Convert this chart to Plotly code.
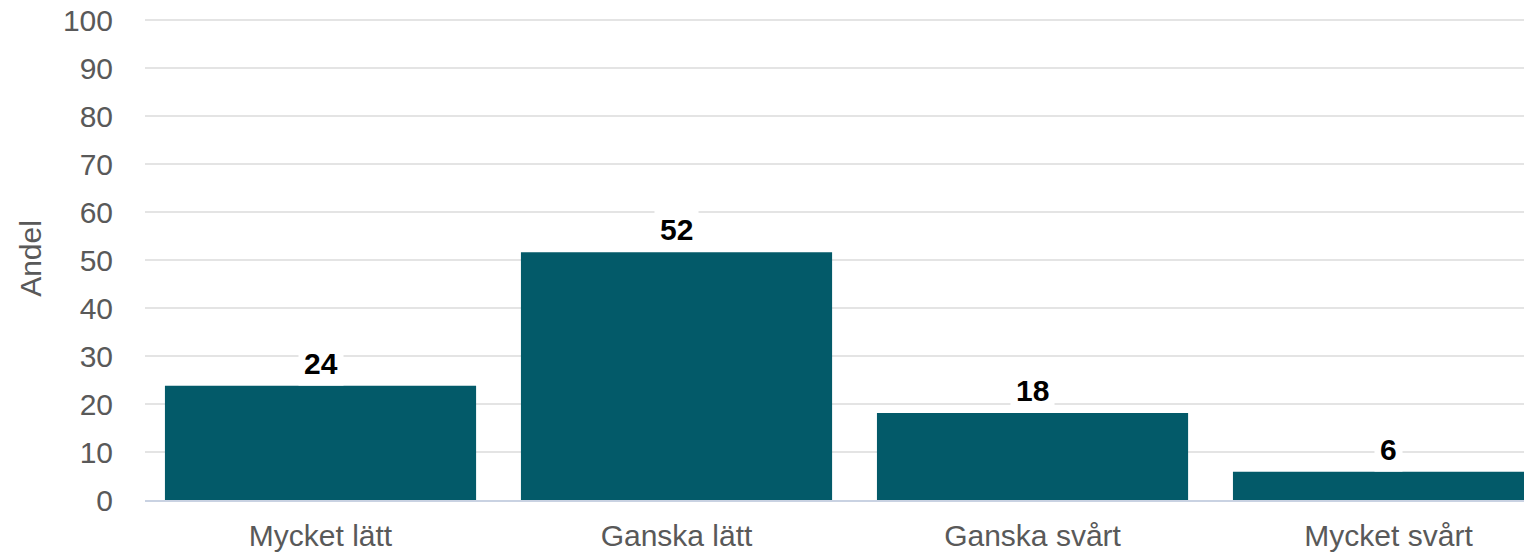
import plotly.graph_objects as go

categories = ["Mycket lätt", "Ganska lätt", "Ganska svårt", "Mycket svårt"]
values = [23.8, 51.6, 18.1, 5.9]
y_ticks = [0, 10, 20, 30, 40, 50, 60, 70, 80, 90, 100]
y_title = "Andel"

BAR = "#035a69"
TXT = "#595959"
FONT = "Liberation Sans, Arial, sans-serif"

fig = go.Figure()
fig.add_trace(go.Bar(
    x=list(range(len(categories))),
    y=values,
    marker=dict(color=BAR, line=dict(width=0)),
    hoverinfo="skip",
))

for i, v in enumerate(values):
    fig.add_annotation(
        x=i, y=v, xref="x", yref="y",
        text="<b>%d</b>" % round(v),
        showarrow=False,
        yanchor="bottom", xanchor="center",
        bgcolor="white", borderpad=5,
        font=dict(family=FONT, size=30, color="#000000"),
    )

# page body adds an 8px offset; compensate so the plot lands where the reference has it
fig.update_layout(
    width=1524, height=547,
    margin=dict(l=137, r=0, t=9, b=55, autoexpand=False),
    paper_bgcolor="white", plot_bgcolor="white",
    showlegend=False,
    bargap=0.126,
    font=dict(family=FONT, size=30, color=TXT),
)
fig.update_xaxes(
    tickmode="array",
    tickvals=list(range(len(categories))),
    ticktext=categories,
    range=[-0.493, 3.403],
    automargin=False,
    showgrid=False, zeroline=False,
    showline=True, linecolor="#c9d2e2", linewidth=2,
    ticks="", ticklabelstandoff=8,
    tickfont=dict(family=FONT, size=30, color=TXT),
)
fig.update_yaxes(
    range=[0, 100.625],
    automargin=False,
    tickmode="array", tickvals=y_ticks,
    showgrid=True, gridcolor="#e4e4e4", gridwidth=2,
    zeroline=False, showline=False,
    ticks="", ticklabelstandoff=31, ticklabeloverflow="allow",
    tickfont=dict(family=FONT, size=30, color=TXT),
    title=dict(text=y_title, font=dict(family=FONT, size=30, color=TXT), standoff=12),
)

fig.write_html("out.html")
